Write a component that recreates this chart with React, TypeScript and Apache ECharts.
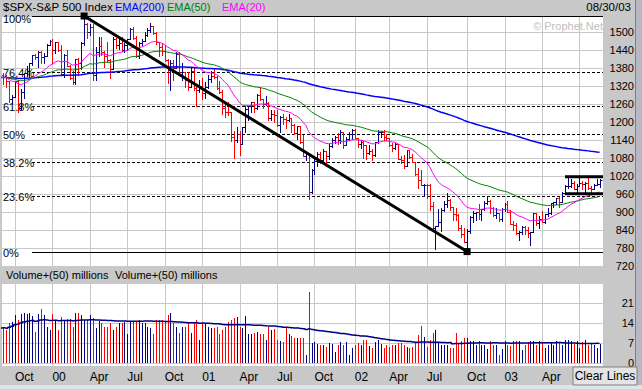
import React, { useEffect, useRef } from "react";
import * as echarts from "echarts";

// Weekly S&P 500 bars, Aug 27 1999 .. Aug 29 2003 (index 0..209)
const opens = [
  1324,1348,1357,1351,1335,1277,1282,1336,1247,1301,1362,1370,1397,1422,1416,1433,1417,1421,1458,
  1469,1441,1465,1441,1360,1424,1387,1346,1333,1409,1395,1464,1527,1499,1516,1357,1434,1452,1433,1421,1407,1378,1477,1457,1464,1441,1455,1478,1510,1481,1419,1462,1471,1491,1507,1520,1495,1466,1449,1436,1408,1374,1396,1379,1426,1365,1367,1341,1315,1369,1312,1305,
  1320,1298,1318,1342,1354,1349,1314,1301,1246,1234,1233,1150,1139,1160,1128,1183,1242,1253,1266,1245,1291,1277,1260,1264,1214,1225,1224,1190,1215,1210,1205,1214,1190,1162,1185,1134,1085,1092,966,1041,1071,1092,1073,1104,1087,1120,1139,1151,1139,1167,1123,1144,
  1161,1173,1146,1128,1133,1122,1096,1104,1090,1132,1165,1166,1149,1147,1122,1112,1125,1077,1073,1054,1106,1083,1067,1028,1007,990,990,989,921,847,852,865,908,928,940,916,893,889,846,827,800,835,884,897,900,894,910,930,936,912,890,895,
  876,909,927,901,861,856,829,834,851,841,829,833,895,864,878,868,893,898,930,933,946,933,964,987,988,995,976,985,998,993,998,980,977,990,993,
];
const highs = [
  1352,1362,1362,1355,1337,1291,1337,1340,1310,1363,1387,1397,1424,1428,1436,1435,1430,1459,1473,
  1478,1466,1465,1455,1428,1440,1390,1369,1410,1414,1465,1553,1530,1527,1527,1449,1482,1482,1436,1467,1410,1483,1480,1483,1482,1462,1478,1513,1517,1485,1465,1475,1499,1512,1530,1520,1500,1468,1462,1455,1411,1407,1408,1432,1434,1395,1368,1368,1380,1381,1315,1341,
  1348,1333,1357,1369,1376,1354,1336,1308,1262,1266,1233,1171,1183,1169,1183,1253,1254,1267,1268,1292,1316,1278,1286,1265,1240,1239,1239,1219,1225,1216,1226,1214,1194,1186,1185,1155,1096,1092,1042,1076,1099,1099,1110,1104,1125,1146,1152,1163,1173,1168,1150,1165,
  1176,1176,1147,1139,1138,1122,1124,1110,1132,1173,1169,1173,1159,1147,1131,1131,1125,1088,1090,1107,1107,1094,1067,1046,1040,993,992,994,933,853,911,913,935,962,943,916,912,892,856,848,843,886,904,900,925,910,937,954,940,915,914,897,
  912,931,935,906,870,864,836,852,852,849,833,896,896,885,904,894,912,930,934,947,949,965,990,1015,1011,1002,993,1016,1003,1000,1016,985,993,1011,1009,
];
const lows = [
  1320,1320,1327,1315,1268,1262,1282,1234,1243,1281,1354,1350,1390,1410,1384,1397,1398,1419,1455,
  1397,1431,1436,1360,1350,1386,1343,1325,1325,1355,1378,1456,1480,1491,1339,1339,1420,1424,1383,1399,1347,1378,1448,1443,1438,1433,1440,1475,1478,1416,1413,1453,1471,1488,1500,1493,1460,1420,1423,1402,1330,1305,1340,1379,1365,1339,1316,1305,1315,1308,1254,1300,
  1276,1280,1314,1332,1348,1311,1296,1228,1215,1222,1136,1081,1132,1091,1126,1167,1205,1232,1232,1244,1272,1245,1258,1208,1205,1200,1187,1165,1192,1181,1204,1168,1160,1143,1130,1085,1073,944,962,1026,1052,1062,1069,1054,1075,1115,1129,1125,1131,1114,1122,1140,
  1144,1143,1117,1113,1081,1077,1094,1074,1085,1130,1150,1139,1139,1120,1102,1109,1075,1063,1048,1054,1081,1066,1022,981,989,952,947,908,845,775,852,837,903,918,908,872,872,840,817,800,768,830,868,873,875,872,908,927,897,887,880,871,
  869,903,900,861,840,825,806,828,825,816,789,833,855,847,865,862,886,893,916,927,918,932,964,980,984,976,966,985,978,965,978,960,975,989,984,
];
const closes = [
  1348,1357,1351,1335,1277,1282,1336,1247,1301,1362,1370,1397,1422,1416,1433,1417,1421,1458,1469,
  1441,1465,1441,1360,1424,1387,1346,1333,1409,1395,1464,1527,1499,1516,1357,1434,1452,1433,1421,1407,1378,1477,1457,1464,1441,1455,1478,1510,1481,1419,1462,1471,1491,1507,1520,1495,1466,1449,1436,1408,1374,1396,1379,1426,1365,1367,1341,1315,1369,1312,1305,1320,
  1298,1318,1342,1354,1349,1314,1301,1246,1234,1233,1150,1139,1160,1128,1183,1242,1253,1266,1245,1291,1277,1260,1264,1214,1225,1224,1190,1215,1210,1205,1214,1190,1162,1185,1134,1085,1092,966,1041,1071,1092,1073,1104,1087,1120,1139,1151,1139,1167,1123,1144,1161,
  1173,1146,1128,1133,1122,1096,1104,1090,1132,1165,1166,1149,1147,1122,1112,1125,1077,1073,1054,1106,1083,1067,1028,1007,990,990,989,921,847,852,865,908,928,940,916,893,889,846,827,800,835,884,897,900,894,910,930,936,912,890,895,876,
  909,927,901,861,856,829,834,851,841,829,833,895,864,878,868,893,898,930,933,946,933,964,987,988,995,976,985,998,993,998,980,977,990,993,1008,
];
// weekly volume (millions, as on the chart's volume scale)
const volumes = [
  12.5,12.0,12.5,11.6,14.0,14.5,16.8,15.0,17.0,17.5,
  17.0,17.4,16.5,10.7,17.0,19.0,16.8,12.5,11.6,17.0,
  15.0,11.6,16.2,15.0,15.3,15.3,12.5,17.6,17.6,16.8,
  15.0,15.0,16.8,15.6,12.1,14.8,13.9,12.7,12.7,13.9,
  11.6,12.7,13.9,13.9,14.5,10.0,14.5,14.5,14.8,15.1,
  13.9,13.9,12.7,12.1,10.2,15.1,15.1,15.1,14.5,16.8,
  17.4,13.9,12.7,10.6,12.7,12.7,13.9,10.6,13.9,15.1,
  8.2,13.9,13.9,12.7,12.1,12.1,12.7,10.2,11.6,12.7,
  14.5,15.1,15.6,16.2,12.7,12.1,16.5,10.2,10.2,10.6,
  11.0,10.2,10.2,8.2,12.7,11.6,11.8,8.2,7.6,7.3,
  12.1,10.2,9.5,8.7,8.7,8.9,8.7,2.8,25.0,7.0,
  7.3,6.5,6.3,6.3,5.7,6.9,6.7,4.0,6.3,7.3,
  6.3,7.3,2.8,5.1,6.3,6.9,6.3,7.9,7.9,5.9,
  5.1,7.3,7.9,6.7,5.1,6.3,5.7,6.2,6.3,6.9,
  6.9,6.3,5.7,5.4,5.7,7.3,9.7,12.9,9.0,5.7,
  8.2,10.4,11.6,7.3,6.3,6.3,6.3,5.1,5.1,10.6,
  6.9,7.6,8.7,8.9,7.6,7.6,6.3,7.6,6.3,6.3,
  4.8,7.6,6.3,6.3,2.8,4.8,7.6,6.3,6.0,7.6,
  7.6,7.6,4.4,6.3,7.3,7.6,7.6,6.3,7.6,7.3,
  5.4,6.3,6.9,6.3,7.6,7.3,6.3,7.9,8.2,7.6,
  6.7,7.6,5.4,7.3,7.9,6.3,6.7,6.3,5.4,6.5,
];

// first bar of each quarter (Oct, Jan, Apr, Jul); the last one's label sits under the button
const quarterIdx = [6, 19, 32, 45, 58, 71, 84, 97, 110, 124, 136, 149, 163, 176, 189, 202];
const quarterLabels = ["Oct", "00", "Apr", "Jul", "Oct", "01", "Apr", "Jul", "Oct", "02", "Apr", "Jul", "Oct", "03", "Apr", ""];

const fibPcts = [100, 76.4, 61.8, 50, 38.2, 23.6, 0];
const TREND_HIGH_IDX = 30; // Mar 24 2000 high
const TREND_LOW_IDX = 163; // Oct 11 2002 low
const boxLevels = [1017, 961];
const BOX_START_IDX = 197;

const emaSpecs = [
  { period: 200, color: "#0000ff", width: 1.5 },
  { period: 50, color: "#008000", width: 1 },
  { period: 20, color: "#ff00ff", width: 1 },
];
const VOL_MA_PERIOD = 50;

const PRICE_MIN = 720, PRICE_MAX = 1553, PRICE_STEP = 60;
const VOL_MIN = 0, VOL_MAX = 28, VOL_STEP = 7;

const X_MIN = 1.486, X_MAX = 210.2;
const FIB_X0 = 11.9;

const FONT = "'Liberation Sans', Arial, Helvetica, sans-serif";
const NAVY = "#000080";
const RED = "#ff0000";
const GRIDC = "#c8c8c8";

function ema(vals: number[], period: number) {
  const k = 2 / (period + 1);
  let e = vals[0];
  return vals.map((v, i) => {
    if (i > 0) e = e + k * (v - e);
    return [i, e];
  });
}
function sma(vals: number[], period: number) {
  return vals.map((_, i) => {
    const s = Math.max(0, i - period + 1);
    const w = vals.slice(s, i + 1);
    return [i, w.reduce((a, b) => a + b, 0) / w.length];
  });
}

export default function App() {
  const ref = useRef<HTMLDivElement>(null);
  useEffect(() => {
    document.body.style.margin = "0";
    const chart = echarts.init(ref.current!, null, { renderer: "svg" });

    const up = closes.map((c, i) => ((i === 0 ? c >= opens[0] : c >= closes[i - 1]) ? 1 : 0));
    const ohlc = closes.map((c, i) => [i, opens[i], highs[i], lows[i], c, up[i]]);
    const vol = volumes.map((v, i) => [i, v, up[i]]);
    const hi = highs[TREND_HIGH_IDX];
    const lo = lows[TREND_LOW_IDX];
    const fib = fibPcts.map((p) => [FIB_X0, lo + ((hi - lo) * p) / 100, p]);

    const r = (v: number) => Math.round(v) + 0.5;

    const vGrid = (ext: number) => (params: any, api: any) => {
      const x = r(api.coord([api.value(0), api.value(1)])[0]);
      const cs = params.coordSys;
      return {
        type: "line",
        shape: { x1: x, y1: cs.y, x2: x, y2: cs.y + cs.height + ext },
        style: { stroke: GRIDC, lineWidth: 1 },
      };
    };

    const axisLabelStyle = { color: "#000", fontSize: 11, fontFamily: FONT };
    const hdr = (text: string, x: number, fill: string, size: number, align = "left") => ({
      type: "text", x, y: 7, z: 10,
      style: { text, fill, fontSize: size, fontFamily: FONT, verticalAlign: "middle", align },
    });

    const option: any = {
      animation: false,
      grid: [
        { left: 2, top: 16, width: 601, height: 250, show: true, backgroundColor: "#ffffff", borderWidth: 0 },
        { left: 2, top: 283, width: 601, height: 80, show: true, backgroundColor: "#ffffff", borderWidth: 0 },
      ],
      xAxis: [
        { type: "value", gridIndex: 0, min: X_MIN, max: X_MAX, show: false },
        {
          type: "value", gridIndex: 1, min: X_MIN, max: X_MAX,
          axisLine: { show: false }, axisTick: { show: false }, splitLine: { show: false },
          axisLabel: {
            customValues: quarterIdx.filter((_, k) => quarterLabels[k] !== ""),
            formatter: (v: number) => quarterLabels[quarterIdx.indexOf(Math.round(v))] ?? "",
            align: "left", margin: 8, ...axisLabelStyle, fontSize: 12,
          },
        },
      ],
      yAxis: [
        {
          type: "value", gridIndex: 0, position: "right", min: PRICE_MIN, max: PRICE_MAX, interval: PRICE_STEP,
          axisLine: { show: false }, axisTick: { show: false },
          axisLabel: { showMaxLabel: false, showMinLabel: true, align: "right", margin: 31, formatter: (v: number) => String(v), ...axisLabelStyle },
          splitLine: { show: true, lineStyle: { color: GRIDC, width: 1 } },
        },
        {
          type: "value", gridIndex: 1, position: "right", min: VOL_MIN, max: VOL_MAX, interval: VOL_STEP,
          axisLine: { show: false }, axisTick: { show: false },
          axisLabel: { showMaxLabel: false, showMinLabel: true, align: "right", margin: 31, formatter: (v: number) => String(v), ...axisLabelStyle },
          splitLine: { show: true, lineStyle: { color: GRIDC, width: 1 } },
        },
      ],
      series: [
        {
          type: "custom", xAxisIndex: 0, yAxisIndex: 0, z: 1, silent: true, clip: true,
          data: quarterIdx.map((q) => [q, PRICE_MIN]), encode: { x: 0, y: 1 }, renderItem: vGrid(0),
        },
        {
          type: "custom", xAxisIndex: 1, yAxisIndex: 1, z: 1, silent: true, clip: false,
          data: quarterIdx.map((q) => [q, VOL_MIN]), encode: { x: 0, y: 1 }, renderItem: vGrid(3),
        },
        {
          type: "custom", xAxisIndex: 0, yAxisIndex: 0, z: 3, silent: true, clip: false,
          data: fib, encode: { x: 0, y: 1 },
          renderItem: (params: any, api: any) => {
            const p = api.value(2);
            const pt = api.coord([api.value(0), api.value(1)]);
            const y = r(pt[1]);
            const cs = params.coordSys;
            const solid = p === 0 || p === 100;
            return {
              type: "group",
              children: [
                {
                  type: "line",
                  shape: { x1: Math.round(pt[0]), y1: y, x2: cs.x + cs.width, y2: y },
                  style: { stroke: "#000", lineWidth: 1, lineDash: solid ? null : [3, 2] },
                },
                {
                  type: "text", x: 3, y: Math.round(pt[1]) + (p === 100 ? 3 : 1),
                  style: { text: `${p}%`, fill: "#000", fontSize: 11, fontFamily: FONT, verticalAlign: "middle", align: "left" },
                },
              ],
            };
          },
        },
        {
          type: "custom", xAxisIndex: 0, yAxisIndex: 0, z: 4, silent: true, clip: true,
          data: ohlc, encode: { x: 0, y: [1, 2, 3, 4] },
          renderItem: (params: any, api: any) => {
            const i = api.value(0);
            const x = r(api.coord([i, api.value(1)])[0]);
            const yo = r(api.coord([i, api.value(1)])[1]);
            const yh = r(api.coord([i, api.value(2)])[1]);
            const yl = r(api.coord([i, api.value(3)])[1]);
            const yc = r(api.coord([i, api.value(4)])[1]);
            const st = { stroke: api.value(5) ? NAVY : RED, lineWidth: 1 };
            return {
              type: "group",
              children: [
                { type: "line", shape: { x1: x, y1: yh - 0.5, x2: x, y2: yl + 0.5 }, style: st },
                { type: "line", shape: { x1: x - 2, y1: yo, x2: x, y2: yo }, style: st },
                { type: "line", shape: { x1: x, y1: yc, x2: x + 2, y2: yc }, style: st },
              ],
            };
          },
        },
        ...emaSpecs.map((s) => ({
          type: "line", xAxisIndex: 0, yAxisIndex: 0, z: 5, silent: true,
          data: ema(closes, s.period), symbol: "none", showSymbol: false,
          lineStyle: { color: s.color, width: s.width },
        })),
        {
          type: "line", xAxisIndex: 0, yAxisIndex: 0, z: 6, silent: true, clip: false,
          data: [[TREND_HIGH_IDX, hi], [TREND_LOW_IDX, lo]],
          symbol: "rect", symbolSize: 7, showSymbol: true,
          itemStyle: { color: "#000" }, lineStyle: { color: "#000", width: 3 },
        },
        ...boxLevels.map((l) => ({
          type: "line", xAxisIndex: 0, yAxisIndex: 0, z: 6, silent: true,
          data: [[BOX_START_IDX, l], [X_MAX, l]], symbol: "none",
          lineStyle: { color: "#000", width: 3 },
        })),
        {
          type: "custom", xAxisIndex: 1, yAxisIndex: 1, z: 4, silent: true, clip: true,
          data: vol, encode: { x: 0, y: 1 },
          renderItem: (params: any, api: any) => {
            const i = api.value(0);
            const p0 = api.coord([i, VOL_MIN]);
            const p1 = api.coord([i, api.value(1)]);
            const x = r(p0[0]);
            return {
              type: "line",
              shape: { x1: x, y1: p0[1], x2: x, y2: Math.round(p1[1]) },
              style: { stroke: api.value(2) ? NAVY : RED, lineWidth: 1 },
            };
          },
        },
        {
          type: "line", xAxisIndex: 1, yAxisIndex: 1, z: 5, silent: true,
          data: sma(volumes, VOL_MA_PERIOD), symbol: "none", showSymbol: false, step: "middle",
          lineStyle: { color: NAVY, width: 1.5 },
        },
      ],
      graphic: [
        { type: "rect", z: 0, shape: { x: 2, y: 363, width: 601, height: 3 }, style: { fill: "#ffffff" } },
        hdr("$SPX-S&P 500 Index", 3, "#000", 11.5),
        hdr("EMA(200)", 115, "#0000ff", 11),
        hdr("EMA(50)", 167, "#008000", 11),
        hdr("EMA(20)", 222, "#ff00ff", 11),
        hdr("08/30/03", 631, "#000", 11.5, "right"),
        { type: "text", x: 603, y: 26, z: 10, style: { text: "© Prophet.Net", fill: "#c0c0c0", fontSize: 11, fontFamily: FONT, verticalAlign: "middle", align: "right" } },
        { type: "text", x: 6, y: 275, z: 10, style: { text: "Volume+(50) millions", fill: "#000", fontSize: 11, fontFamily: FONT, verticalAlign: "middle" } },
        { type: "text", x: 115, y: 275, z: 10, style: { text: "Volume+(50) millions", fill: "#000", fontSize: 11, fontFamily: FONT, verticalAlign: "middle" } },
        { type: "rect", z: 10, shape: { x: 635, y: 0, width: 1, height: 385 }, style: { fill: "#808080" } },
        { type: "rect", z: 10, shape: { x: 636, y: 0, width: 6, height: 385 }, style: { fill: "#b8b8c4" } },
        { type: "rect", z: 10, shape: { x: 0, y: 385, width: 642, height: 4 }, style: { fill: "#dce4f0" } },
        { type: "rect", z: 100, shape: { x: 573, y: 367, width: 64, height: 18 }, style: { fill: "#e4e4e4", stroke: "#808080", lineWidth: 1 } },
        { type: "text", x: 605, y: 376, z: 101, style: { text: "Clear Lines", fill: "#000", fontSize: 12, fontFamily: FONT, verticalAlign: "middle", align: "center" } },
      ],
    };
    chart.setOption(option);
    return () => chart.dispose();
  }, []);
  return <div ref={ref} style={{ width: 642, height: 389, background: "#c8c8c8" }} />;
}
